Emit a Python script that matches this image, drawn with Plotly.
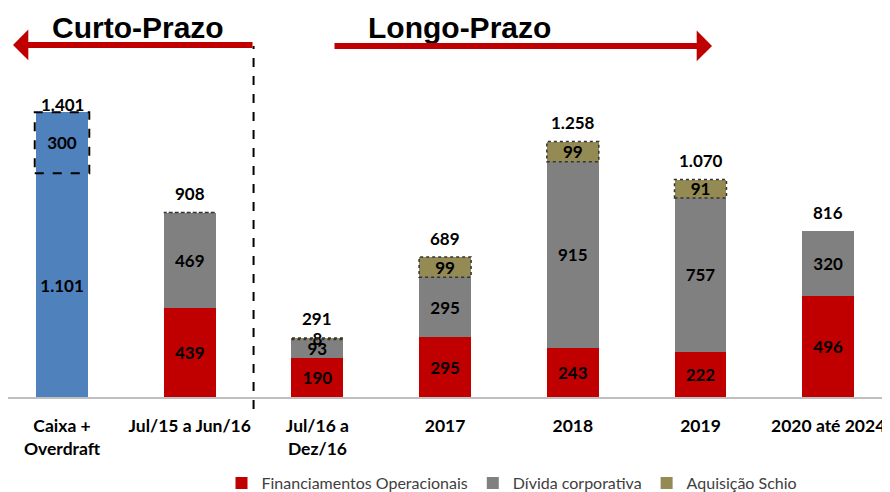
import plotly.graph_objects as go

categories = ["Caixa +<br>Overdraft", "Jul/15 a Jun/16", "Jul/16 a<br>Dez/16", "2017", "2018", "2019", "2020 até 2024"]
caixa = [1101, None, None, None, None, None, None]
overdraft = [300, None, None, None, None, None, None]
fin_op = [None, 439, 190, 295, 243, 222, 496]
divida = [None, 469, 93, 295, 915, 757, 320]
schio = [None, 0, 8, 99, 99, 91, None]
totals = [1401, 908, 291, 689, 1258, 1070, 816]

RED = "#C00000"
GRAY = "#808080"
OLIVE = "#948A54"
BLUE = "#4F81BD"
FONT = "Lato, Liberation Sans, sans-serif"
BW = 0.407

# page body adds an 8px margin; figure is offset by 8px in the window
W, H = 882, 492
PH = 390            # plot height in px (baseline at screen y 398)
BOTTOM = H - PH


def fmt(v):
    if v is None or v == 0:
        return ""
    return f"{v:,}".replace(",", ".")


def v0(v):
    return v if v is not None else 0


def py(screen_y):
    """convert a screen y (reference pixels) to paper y."""
    return (PH - (screen_y - 8)) / PH


def px(screen_x):
    return (screen_x - 8) / W


fig = go.Figure()

series = [
    ("Caixa", caixa, BLUE, False),
    ("Overdraft", overdraft, BLUE, False),
    ("Financiamentos Operacionais", fin_op, RED, True),
    ("Dívida corporativa", divida, GRAY, True),
    ("Aquisição Schio", schio, OLIVE, True),
]
for name, vals, color, leg in series:
    fig.add_trace(go.Bar(
        x=categories, y=vals, name=name, showlegend=leg,
        marker=dict(color=color, line=dict(width=0)),
        width=BW,
        text=[fmt(v) for v in vals], textposition="inside",
        insidetextanchor="middle", textangle=0,
        textfont=dict(family=FONT, size=17, color="black", weight="bold"),
        hoverinfo="skip",
    ))

shapes = []
for i, (c, o) in enumerate(zip(caixa, overdraft)):
    if o:
        shapes.append(dict(type="rect", xref="x", yref="y",
                           x0=i - BW / 2 - 0.01, x1=i + BW / 2 + 0.01,
                           y0=c, y1=c + o,
                           line=dict(color="black", width=2, dash="dash")))
for i, s in enumerate(schio):
    if s is not None:
        base = v0(fin_op[i]) + v0(divida[i])
        shapes.append(dict(type="rect", xref="x", yref="y",
                           x0=i - BW / 2, x1=i + BW / 2,
                           y0=base, y1=base + s,
                           line=dict(color="#333333", width=1.5, dash="dot")))
shapes.append(dict(type="line", xref="x", yref="paper", x0=1.5, x1=1.5,
                   y0=py(410), y1=py(46),
                   line=dict(color="black", width=2, dash="dash")))

annotations = []
for i, t in enumerate(totals):
    shift = 8 if overdraft[i] else 19
    annotations.append(dict(x=i, y=t, xref="x", yref="y", text=fmt(t),
                            showarrow=False, yshift=shift,
                            xanchor="center", yanchor="middle",
                            font=dict(family=FONT, size=17, color="black", weight="bold")))

TFONT = dict(family="Liberation Sans, sans-serif", size=30, color="black", weight="bold")
annotations.append(dict(x=px(138), y=py(28), xref="paper", yref="paper",
                        xanchor="center", yanchor="middle",
                        text="Curto-Prazo", showarrow=False, font=TFONT))
annotations.append(dict(x=px(459), y=py(28), xref="paper", yref="paper",
                        xanchor="center", yanchor="middle",
                        text="Longo-Prazo", showarrow=False, font=TFONT))
annotations.append(dict(x=px(13), y=py(45), xref="paper", yref="paper",
                        ax=241, ay=0, showarrow=True, arrowhead=1, arrowsize=0.85,
                        arrowwidth=6, arrowcolor=RED, text=""))
annotations.append(dict(x=px(712), y=py(46), xref="paper", yref="paper",
                        ax=-379, ay=0, showarrow=True, arrowhead=1, arrowsize=0.85,
                        arrowwidth=6, arrowcolor=RED, text=""))

fig.update_layout(
    width=W, height=H,
    margin=dict(l=0, r=0, t=0, b=BOTTOM),
    barmode="stack",
    plot_bgcolor="white", paper_bgcolor="white",
    uniformtext=dict(minsize=17, mode="show"),
    shapes=shapes, annotations=annotations,
    legend=dict(orientation="h", x=px(512), xanchor="center", y=py(484), yanchor="middle",
                font=dict(family=FONT, size=16, color="#404040"),
                traceorder="normal", itemwidth=30),
    xaxis=dict(range=[-0.423, 6.484], showline=True, linecolor="#BFBFBF", linewidth=2,
               ticks="", showgrid=False,
               tickfont=dict(family=FONT, size=17.5, color="black", weight="bold"),
               ticklabelstandoff=12),
    yaxis=dict(range=[0, PH / 0.2037], visible=False),
)

fig.write_html("out.html")
